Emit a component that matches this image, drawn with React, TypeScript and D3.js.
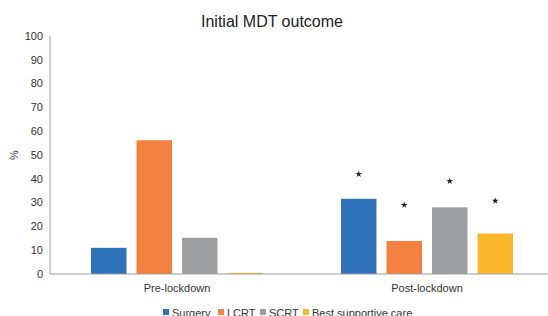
import React from 'react';
import * as d3 from 'd3';

const periods = ['Pre-lockdown', 'Post-lockdown'];
const treatments = ['Surgery', 'LCRT', 'SCRT', 'Best supportive care'];
const preValues = [11, 56.2, 15.2, 0.5];
const postValues = [31.6, 13.9, 28, 17];
// height (in %) where the significance stars sit, post-lockdown only
const starLevels = [42, 29, 39, 30.7];
const yTicks = [0, 10, 20, 30, 40, 50, 60, 70, 80, 90, 100];
const colors = ['#2e72b9', '#f4813f', '#9c9fa2', '#fbb82b'];

const App: React.FC = () => {
  const width = 548;
  const height = 316;
  const margin = { top: 36, right: -4, bottom: 42, left: 52 };
  const font = '"Liberation Sans", Arial, sans-serif';

  const x0 = d3.scaleBand<string>()
    .domain(periods)
    .range([margin.left, width - margin.right]);

  const x1 = d3.scaleBand<string>()
    .domain(treatments)
    .range([0, 172])
    .paddingInner(0.22);

  const y = d3.scaleLinear()
    .domain([0, 100])
    .range([height - margin.bottom, margin.top]);

  const rows = [preValues, postValues];
  const groupOffset = (x0.bandwidth() - 172) / 2;
  const star = d3.symbol().type(d3.symbolStar).size(14)() || '';

  return (
    <svg width={width} height={height} style={{ position: 'fixed', left: 0, top: 0, fontFamily: font }}>
      <rect width={width} height={height} fill="#fff" />
      <text x={272} y={27} textAnchor="middle" fontSize={16} fill="#222">Initial MDT outcome</text>

      {/* y axis */}
      <line x1={50} x2={50} y1={y(100)} y2={y(0)} stroke="#a0a0a0" strokeWidth={1} />
      {yTicks.map(t => (
        <text key={t} x={43} y={y(t)} dy="0.35em" textAnchor="end" fontSize={11} fill="#333">{t}</text>
      ))}
      <text transform={`translate(18,${y(50)}) rotate(-90)`} textAnchor="middle" fontSize={11} fill="#333">%</text>

      {/* bars */}
      {rows.map((vals, pi) => (
        <g key={periods[pi]} transform={`translate(${(x0(periods[pi]) || 0) + groupOffset},0)`}>
          {vals.map((v, ti) => (
            <rect
              key={treatments[ti]}
              x={x1(treatments[ti]) || 0}
              y={y(v)}
              width={x1.bandwidth()}
              height={y(0) - y(v)}
              fill={colors[ti]}
            />
          ))}
        </g>
      ))}

      {/* significance stars */}
      <g transform={`translate(${(x0('Post-lockdown') || 0) + groupOffset},0)`}>
        {starLevels.map((s, ti) => (
          <path
            key={ti}
            d={star}
            transform={`translate(${(x1(treatments[ti]) || 0) + x1.bandwidth() / 2},${y(s)})`}
            fill="#222"
          />
        ))}
      </g>

      {/* x axis */}
      <line x1={50} x2={width} y1={y(0)} y2={y(0)} stroke="#a0a0a0" strokeWidth={1} />
      {periods.map(p => (
        <text key={p} x={(x0(p) || 0) + x0.bandwidth() / 2} y={292} textAnchor="middle" fontSize={11} fill="#333">{p}</text>
      ))}

      {/* legend */}
      {[163, 218, 260, 303].map((lx, i) => (
        <g key={treatments[i]}>
          <rect x={lx} y={309} width={6} height={6} fill={colors[i]} />
          <text x={lx + 9} y={317} fontSize={11} fill="#333">{treatments[i]}</text>
        </g>
      ))}
    </svg>
  );
};

export default App;
